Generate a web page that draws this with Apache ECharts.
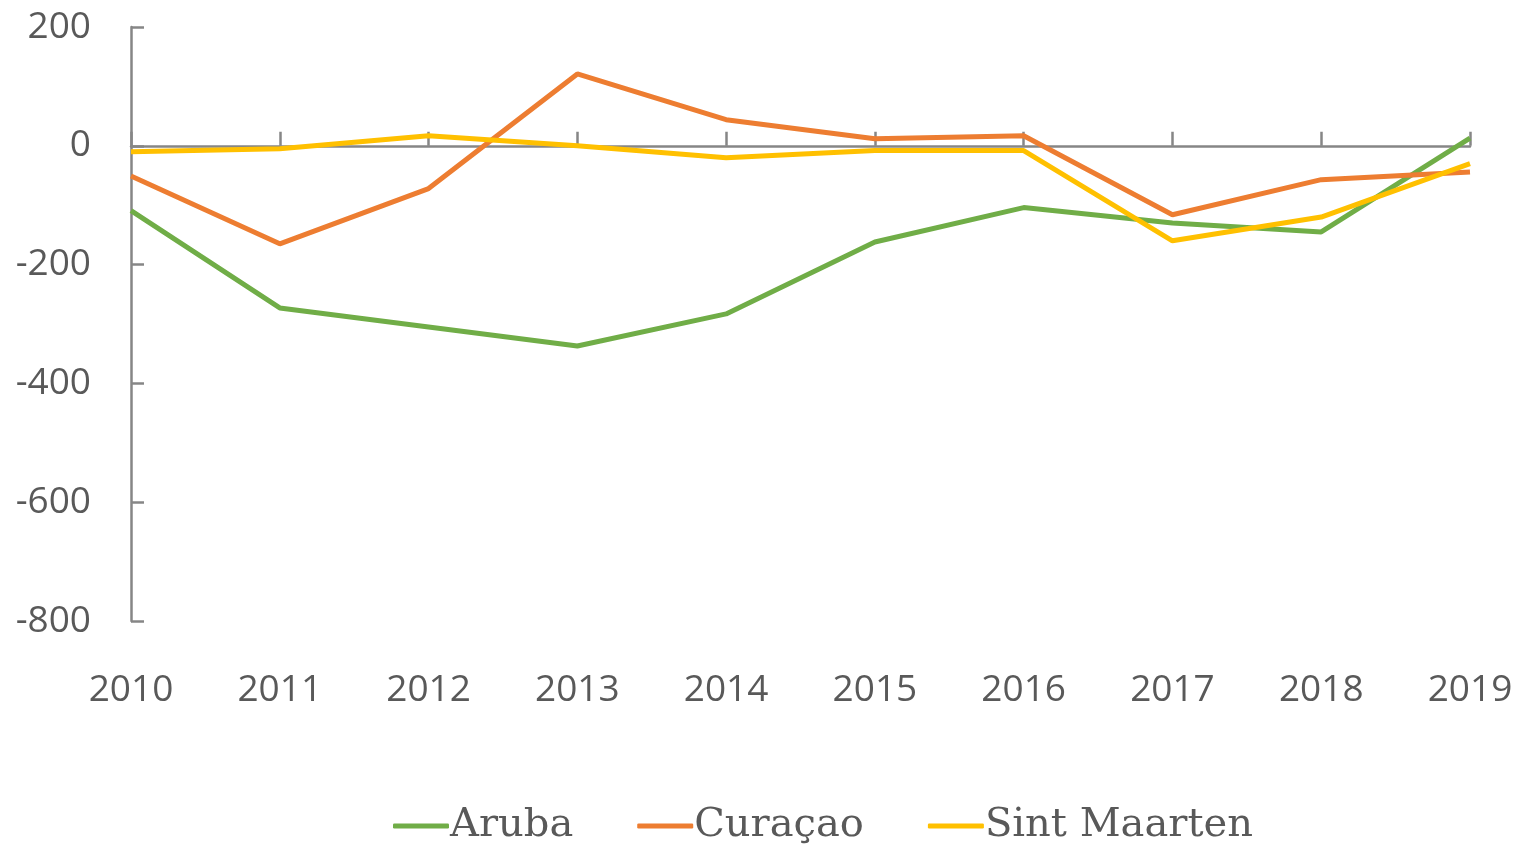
<!DOCTYPE html>
<html>
<head>
<meta charset="utf-8">
<script src="https://cdn.jsdelivr.net/npm/echarts@6/dist/echarts.min.js"></script>
<style>
	html, body { margin: 0; padding: 0; background: #fff; }
	#chart { width: 1517px; height: 844px; }
</style>
</head>
<body>
<div id="chart"></div>
<script>
var years = ['2010', '2011', '2012', '2013', '2014', '2015', '2016', '2017', '2018', '2019'];
var aruba = [-109, -273, -305, -337, -283, -162, -104, -130, -145, 13];
var curacao = [-51, -165, -72, 121, 44, 12, 17, -116, -57, -44];
var sintMaarten = [-10, -5, 17, 0, -20, -8, -8, -160, -120, -30];

var axisGrey = '#868686';
var labelGrey = '#595959';

var chart = echarts.init(document.getElementById('chart'));
var option = {
	color: ['#70AD47', '#ED7D31', '#FFC000'],
	grid: { left: 131, right: 47, top: 27, bottom: 223, containLabel: false },
	legend: {
		bottom: -7,
		left: 388,
		itemWidth: 56,
		itemHeight: 5,
		itemGap: 64,
		icon: 'roundRect',
		textStyle: { fontFamily: 'DejaVu Serif', fontSize: 40, color: labelGrey, padding: [0, 0, 0, -4] },
		data: ['Aruba', 'Curaçao', 'Sint Maarten']
	},
	xAxis: [
		{
			type: 'category',
			data: years,
			boundaryGap: false,
			position: 'bottom',
			axisLine: { show: false, onZero: false },
			axisTick: { show: false },
			axisLabel: { color: labelGrey, fontFamily: 'Open Sans', fontSize: 37, margin: 51 }
		},
		{
			type: 'category',
			data: years,
			boundaryGap: false,
			position: 'bottom',
			axisLine: { show: true, onZero: true, lineStyle: { color: axisGrey, width: 2.5 } },
			axisTick: { show: true, inside: true, length: 14, lineStyle: { color: axisGrey, width: 2.5 } },
			axisLabel: { show: false }
		}
	],
	yAxis: {
		type: 'value',
		min: -800,
		max: 200,
		interval: 200,
		axisLine: { show: true, lineStyle: { color: axisGrey, width: 2.5 } },
		axisTick: { show: true, inside: true, length: 13, lineStyle: { color: axisGrey, width: 2.5 } },
		splitLine: { show: false },
		axisLabel: { color: labelGrey, fontFamily: 'Open Sans', fontSize: 37, margin: 40 }
	},
	series: [
		{ name: 'Aruba', type: 'line', data: aruba, symbol: 'none', lineStyle: { width: 5 } },
		{ name: 'Curaçao', type: 'line', data: curacao, symbol: 'none', lineStyle: { width: 5 } },
		{ name: 'Sint Maarten', type: 'line', data: sintMaarten, symbol: 'none', lineStyle: { width: 5 } }
	]
};
chart.setOption(option);
</script>
</body>
</html>
